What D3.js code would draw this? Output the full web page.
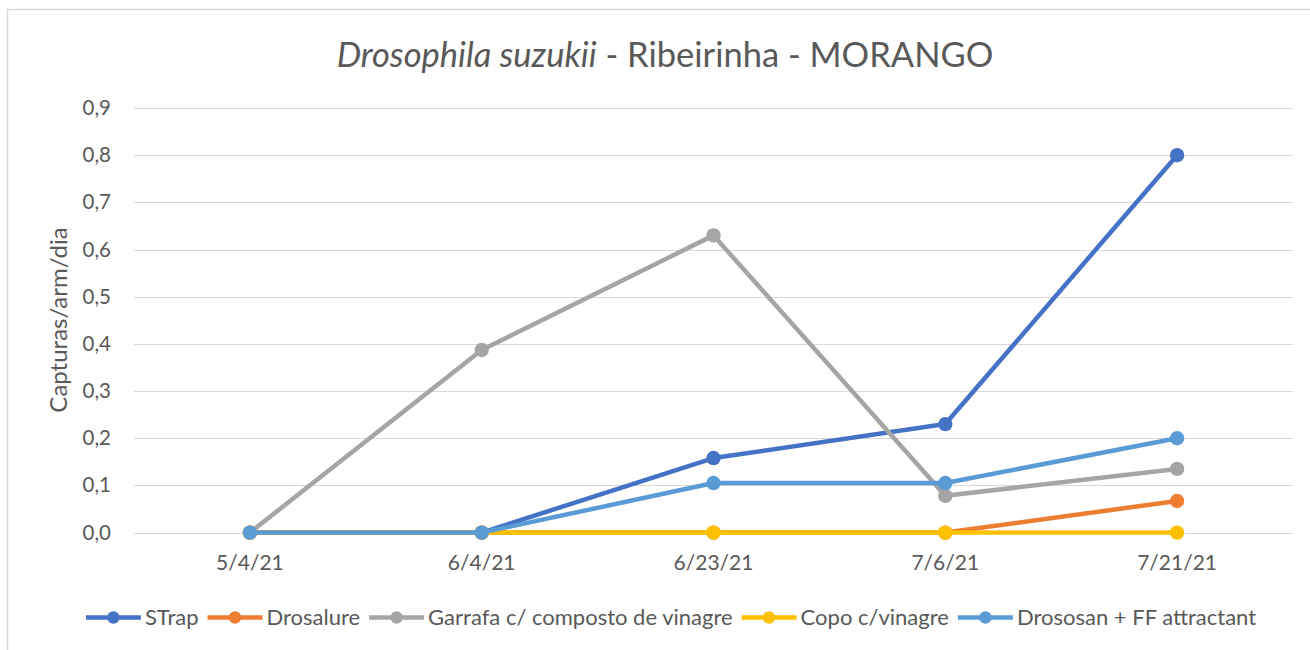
<!DOCTYPE html>
<html>
<head>
<meta charset="utf-8">
<script src="https://cdn.jsdelivr.net/npm/d3@7"></script>
<style>
  body { margin: 0; background: #fff; }
  text { font-family: Lato, "Open Sans", sans-serif; fill: #595959; }
</style>
</head>
<body>
<svg id="chart"></svg>
<script>
// data
var dates = ["5/4/21", "6/4/21", "6/23/21", "7/6/21", "7/21/21"];
var seriesNames = ["STrap", "Drosalure", "Garrafa c/ composto de vinagre", "Copo c/vinagre", "Drososan + FF attractant"];
var seriesColors = ["#4472C4", "#ED7D31", "#A5A5A5", "#FFC000", "#5B9BD5"];
var strap     = [0, 0, 0.158, 0.230, 0.800];
var drosalure = [0, 0, 0, 0, 0.067];
var garrafa   = [0, 0.387, 0.630, 0.078, 0.135];
var copo      = [0, 0, 0, 0, 0];
var drososan  = [0, 0, 0.105, 0.105, 0.200];
var yTicks = [0, 0.1, 0.2, 0.3, 0.4, 0.5, 0.6, 0.7, 0.8, 0.9];

var allValues = [strap, drosalure, garrafa, copo, drososan];

var screen = { width: 1310, height: 650 };
var plot = { left: 134, right: 1293, top: 108, bottom: 532.6 };

var svg = d3.select("#chart")
            .attr("width", screen.width)
            .attr("height", screen.height);

// outer chart border (right and bottom run off the picture)
svg.append("rect")
   .attr("x", 7.5).attr("y", 9.5)
   .attr("width", screen.width).attr("height", screen.height)
   .attr("fill", "none")
   .style("stroke", "#d9d9d9")
   .style("stroke-width", 1.5);

var xScale = d3.scaleBand()
               .domain(dates)
               .range([plot.left, plot.right]);

var yScale = d3.scaleLinear()
               .domain([0, 0.9])
               .range([plot.bottom, plot.top]);

var fmt = function(v){ return d3.format(".1f")(v).replace(".", ","); };

// gridlines
svg.append("g")
   .selectAll("line")
   .data(yTicks)
   .enter()
   .append("line")
   .attr("x1", plot.left).attr("x2", plot.right)
   .attr("y1", function(d){ return Math.round(yScale(d)) + 0.5; })
   .attr("y2", function(d){ return Math.round(yScale(d)) + 0.5; })
   .style("stroke", "#d9d9d9")
   .style("stroke-width", 1);

// y axis labels
var yAxis = d3.axisLeft(yScale)
              .tickValues(yTicks)
              .tickFormat(fmt)
              .tickSize(0)
              .tickPadding(0);
var yAxisG = svg.append("g")
   .attr("transform", "translate(111,0)")
   .call(yAxis);
yAxisG.select(".domain").remove();
yAxisG.selectAll("text")
      .attr("font-size", 20.5)
      .style("font-family", "Lato, sans-serif")
      .attr("fill", "#595959");

// x axis labels
var xAxis = d3.axisBottom(xScale).tickSize(0).tickPadding(0);
var xAxisG = svg.append("g")
   .attr("transform", "translate(0,555)")
   .call(xAxis);
xAxisG.select(".domain").remove();
xAxisG.selectAll("text")
      .attr("font-size", 21)
      .style("font-family", "Lato, sans-serif")
      .attr("fill", "#595959");

// axis title
svg.append("text")
   .attr("transform", "translate(67,320) rotate(-90)")
   .attr("text-anchor", "middle")
   .attr("font-size", 24)
   .text("Capturas/arm/dia");

// chart title
var title = svg.append("text")
   .attr("x", 665).attr("y", 67)
   .attr("text-anchor", "middle")
   .attr("font-size", 34.5);
title.append("tspan").attr("font-style", "italic").text("Drosophila suzukii");
title.append("tspan").text(" - Ribeirinha - MORANGO");

// lines + markers, series by series
var lineDrawer = d3.line()
   .x(function(d, i){ return xScale(dates[i]) + xScale.bandwidth() / 2; })
   .y(function(d){ return yScale(d); });

allValues.forEach(function(vals, s){
  var g = svg.append("g").classed("series", true);
  g.append("path")
   .datum(vals)
   .attr("d", lineDrawer)
   .attr("fill", "none")
   .style("stroke", seriesColors[s])
   .style("stroke-width", 4.5)
   .style("stroke-linejoin", "round")
   .style("stroke-linecap", "round");
  g.selectAll("circle")
   .data(vals)
   .enter()
   .append("circle")
   .attr("cx", function(d, i){ return xScale(dates[i]) + xScale.bandwidth() / 2; })
   .attr("cy", function(d){ return yScale(d); })
   .attr("r", 7.2)
   .attr("fill", seriesColors[s]);
});

// legend
var legend = svg.append("g");
var legendY = 617.5;
var lineLen = 55, gapText = 4, gapItem = 9;
var items = seriesNames.map(function(name, i){
  var g = legend.append("g");
  g.append("line")
   .attr("x1", 0).attr("x2", lineLen)
   .attr("y1", 0).attr("y2", 0)
   .style("stroke", seriesColors[i])
   .style("stroke-width", 4.5);
  g.append("circle")
   .attr("cx", lineLen / 2).attr("cy", 0)
   .attr("r", 6.2)
   .attr("fill", seriesColors[i]);
  var t = g.append("text")
   .attr("x", lineLen + gapText)
   .attr("y", 0)
   .attr("dy", "0.35em")
   .attr("font-size", 22)
   .text(name);
  return { g: g, w: lineLen + gapText + t.node().getComputedTextLength() };
});
var total = d3.sum(items, function(d){ return d.w; }) + gapItem * (items.length - 1);
var cursor = 671 - total / 2;
items.forEach(function(it){
  it.g.attr("transform", "translate(" + cursor + "," + legendY + ")");
  cursor += it.w + gapItem;
});
</script>
</body>
</html>
